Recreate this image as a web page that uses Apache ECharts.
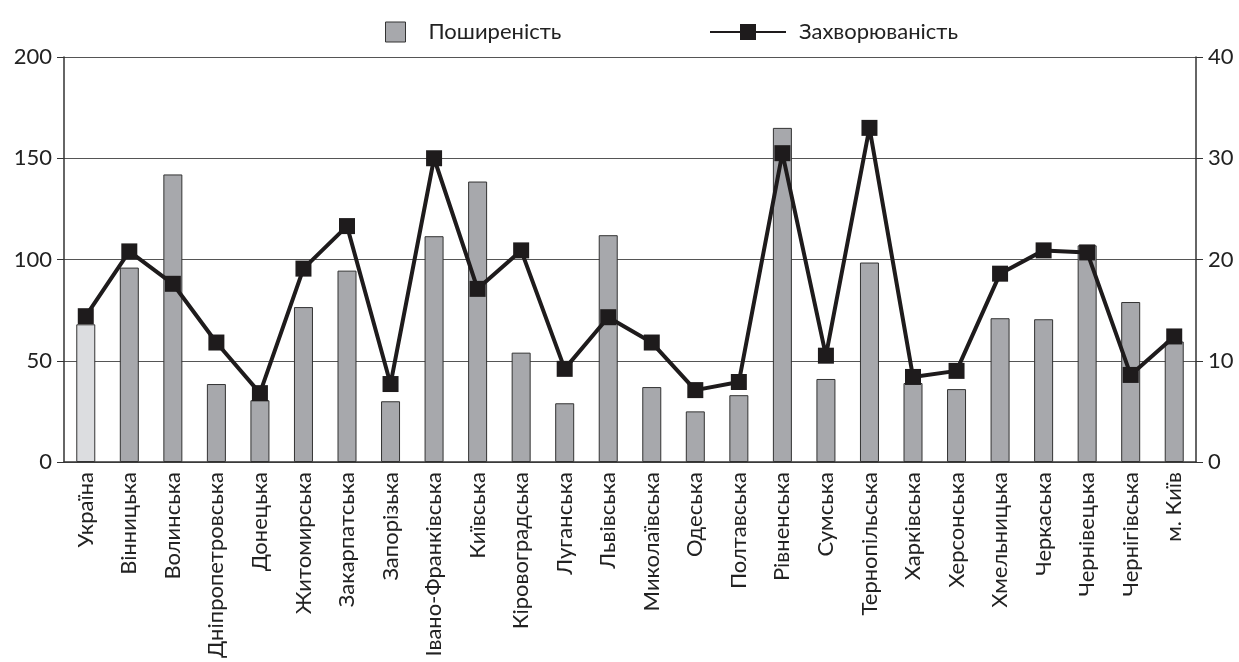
<!DOCTYPE html>
<html>
<head>
<meta charset="utf-8">
<script src="https://cdn.jsdelivr.net/npm/echarts@6/dist/echarts.min.js"></script>
<style>
  html, body { margin: 0; padding: 0; background: #fff; }
  #main { width: 1239px; height: 662px; }
</style>
</head>
<body>
<div id="main"></div>
<script>
var regions = ['Україна', 'Вінницька', 'Волинська', 'Дніпропетровська', 'Донецька', 'Житомирська',
    'Закарпатська', 'Запорізька', 'Івано-Франківська', 'Київська', 'Кіровоградська', 'Луганська',
    'Львівська', 'Миколаївська', 'Одеська', 'Полтавська', 'Рівненська', 'Сумська', 'Тернопільська',
    'Харківська', 'Херсонська', 'Хмельницька', 'Черкаська', 'Чернівецька', 'Чернігівська', 'м. Київ'];
// Поширеність (left axis)
var prevalence = [68, 96, 142, 38.5, 30.5, 76.5, 94.5, 30, 111.5, 138.5, 54, 29, 112, 37, 25, 33, 165,
    41, 98.5, 39, 36, 71, 70.5, 107, 79, 59.5];
// Захворюваність (right axis)
var incidence = [14.4, 20.8, 17.6, 11.8, 6.8, 19.1, 23.3, 7.7, 30.0, 17.1, 20.9, 9.2, 14.3, 11.8, 7.1,
    7.9, 30.5, 10.5, 33.0, 8.4, 9.0, 18.6, 20.9, 20.7, 8.6, 12.4];
var leftTicks = { min: 0, max: 200, interval: 50 };
var rightTicks = { min: 0, max: 40, interval: 10 };

var font = 'Lato, "Open Sans", sans-serif';
var chart = echarts.init(document.getElementById('main'));
chart.setOption({
    animation: false,
    textStyle: { fontFamily: font },
    legend: [{
        top: 16,
        left: 380,
        itemWidth: 20,
        itemHeight: 20,
        textStyle: { fontSize: 22, color: '#222', fontFamily: font, padding: [0, 0, 0, 18] },
        data: [
            { name: 'Поширеність', icon: 'rect', itemStyle: { color: '#a7a8ac', borderColor: '#333', borderWidth: 1 } }
        ]
    }, {
        top: 16,
        left: 704,
        itemWidth: 76,
        itemHeight: 20,
        textStyle: { fontSize: 22, color: '#222', fontFamily: font, padding: [0, 0, 0, 8] },
        data: [{ name: 'Захворюваність' }]
    }],
    grid: {
        left: 64,
        right: 43,
        top: 57,
        bottom: 200
    },
    xAxis: {
        type: 'category',
        data: regions,
        axisLine: { lineStyle: { color: '#333', width: 1.5 } },
        axisTick: { length: 6, lineStyle: { color: '#333', width: 1.5 } },
        axisLabel: {
            rotate: 90,
            fontSize: 22,
            color: '#222',
            margin: 10,
            fontFamily: font
        }
    },
    yAxis: [{
        type: 'value',
        min: leftTicks.min,
        max: leftTicks.max,
        interval: leftTicks.interval,
        axisLine: { show: true, lineStyle: { color: '#333', width: 1.5 } },
        axisTick: { show: true, length: 7, lineStyle: { color: '#333' } },
        axisLabel: { fontSize: 22, color: '#222', margin: 12, fontFamily: font },
        splitLine: { lineStyle: { color: '#555', width: 1.2 } }
    }, {
        type: 'value',
        min: rightTicks.min,
        max: rightTicks.max,
        interval: rightTicks.interval,
        axisLine: { show: true, lineStyle: { color: '#333', width: 1.5 } },
        axisTick: { show: true, length: 7, lineStyle: { color: '#333' } },
        axisLabel: { fontSize: 22, color: '#222', margin: 12, fontFamily: font },
        splitLine: { show: false }
    }],
    series: [{
        name: 'Поширеність',
        type: 'bar',
        barWidth: 19,
        yAxisIndex: 0,
        itemStyle: { color: '#a7a8ac', borderColor: '#333', borderWidth: 1 },
        data: prevalence.map(function (v, i) {
            return i === 0 ? { value: v, itemStyle: { color: '#dcdde0' } } : v;
        })
    }, {
        name: 'Захворюваність',
        type: 'line',
        yAxisIndex: 1,
        symbol: 'rect',
        symbolSize: 16,
        lineStyle: { color: '#1e1b1c', width: 4 },
        itemStyle: { color: '#1e1b1c' },
        data: incidence
    }]
});
</script>
</body>
</html>
